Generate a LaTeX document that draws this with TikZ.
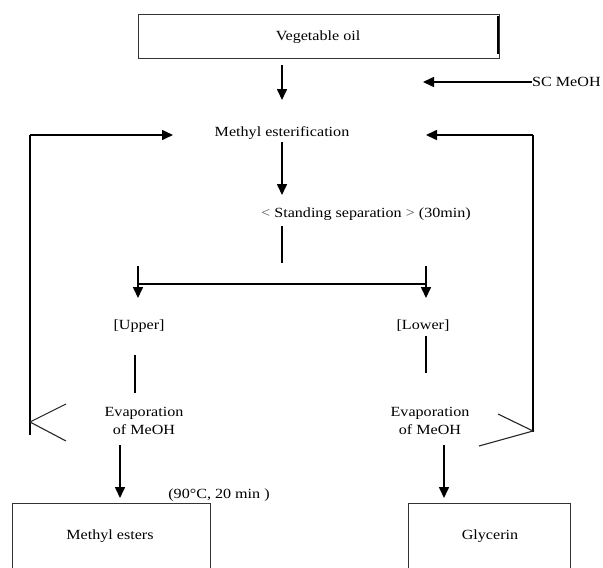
\documentclass[tikz,border=0pt]{standalone}
\usepackage{fontspec}
\setmainfont{Liberation Serif}[FakeStretch=1.15]
\usetikzlibrary{arrows.meta}
\begin{document}
\begin{tikzpicture}[x=1pt,y=-1pt,
  txt/.style={font=\fontsize{14}{18}\selectfont, inner sep=0pt, align=center},
  boxline/.style={draw=black!80, line width=1pt},
  conn/.style={line width=1.6pt},
  chev/.style={line width=1.1pt, draw=black!85},
  arr/.style={conn, -{Triangle[length=11pt,width=10pt]}}]
\useasboundingbox (0,0) rectangle (603,568);
\begin{scope}
\clip (0,0) rectangle (603,568);
% boxes
\draw[boxline] (138,14) rectangle (499,58);
\draw[line width=2.2pt] (498,16) -- (498,54);
\node[txt] (veg) at (318,37) {Vegetable oil};
\draw[boxline] (12,503) rectangle (210,580);
\node[txt] (me) at (110,536) {Methyl esters};
\draw[boxline] (408,503) rectangle (570,580);
\node[txt] (gly) at (490,536) {Glycerin};
\end{scope}
% texts
\node[txt, anchor=west] (sc) at (532,82) {SC MeOH};
\node[txt] (mest) at (282,133) {Methyl esterification};
\node[txt] (sep) at (366,214) {{\color{black!70}<} Standing separation {\color{black!70}>} (30min)};
\node[txt] (up) at (139,326) {[Upper]};
\node[txt] (low) at (423,326) {[Lower]};
\node[txt] (evl) at (144,421) {Evaporation\\of MeOH};
\node[txt] (evr) at (430,421) {Evaporation\\of MeOH};
\node[txt] (cond) at (219,495) {(90°C, 20 min )};
% coordinates
\coordinate (a1s) at (282,65); \coordinate (a1e) at (282,100);
\coordinate (sce) at (423,82);
\coordinate (l1) at (30,435); \coordinate (l2) at (30,135); \coordinate (l3) at (173,135);
\coordinate (r1) at (533,432); \coordinate (r2) at (533,135); \coordinate (r3) at (426,135);
\coordinate (a2s) at (282,142); \coordinate (a2e) at (282,195);
\coordinate (s1) at (282,226); \coordinate (s2) at (282,263);
\coordinate (h1) at (138,284); \coordinate (h2) at (426,284);
\coordinate (du1) at (138,266); \coordinate (du2) at (138,298);
\coordinate (dl1) at (426,266); \coordinate (dl2) at (426,298);
\coordinate (u1) at (135,355); \coordinate (u2) at (135,393);
\coordinate (w1) at (426,336); \coordinate (w2) at (426,373);
\coordinate (cl1) at (66,404); \coordinate (cl2) at (30,422); \coordinate (cl3) at (66,441);
\coordinate (cr1) at (498,414); \coordinate (cr2) at (533,431); \coordinate (cr3) at (479,446);
\coordinate (b1s) at (120,445); \coordinate (b1e) at (120,498);
\coordinate (b2s) at (444,445); \coordinate (b2e) at (444,498);
% connectors
\draw[arr] (sc.west) -- (sce);
\draw[arr] (a1s) -- (a1e);
\draw[conn] (l1) -- (l2);
\draw[arr] (l2) -- (l3);
\draw[conn] (r1) -- (r2);
\draw[arr] (r2) -- (r3);
\draw[arr] (a2s) -- (a2e);
\draw[conn] (s1) -- (s2);
\draw[conn] (h1) -- (h2);
\draw[arr] (du1) -- (du2);
\draw[arr] (dl1) -- (dl2);
\draw[conn] (u1) -- (u2);
\draw[conn] (w1) -- (w2);
\draw[chev] (cl1) -- (cl2) -- (cl3);
\draw[chev] (cr1) -- (cr2) -- (cr3);
\draw[arr] (b1s) -- (b1e);
\draw[arr] (b2s) -- (b2e);
\end{tikzpicture}
\end{document}
